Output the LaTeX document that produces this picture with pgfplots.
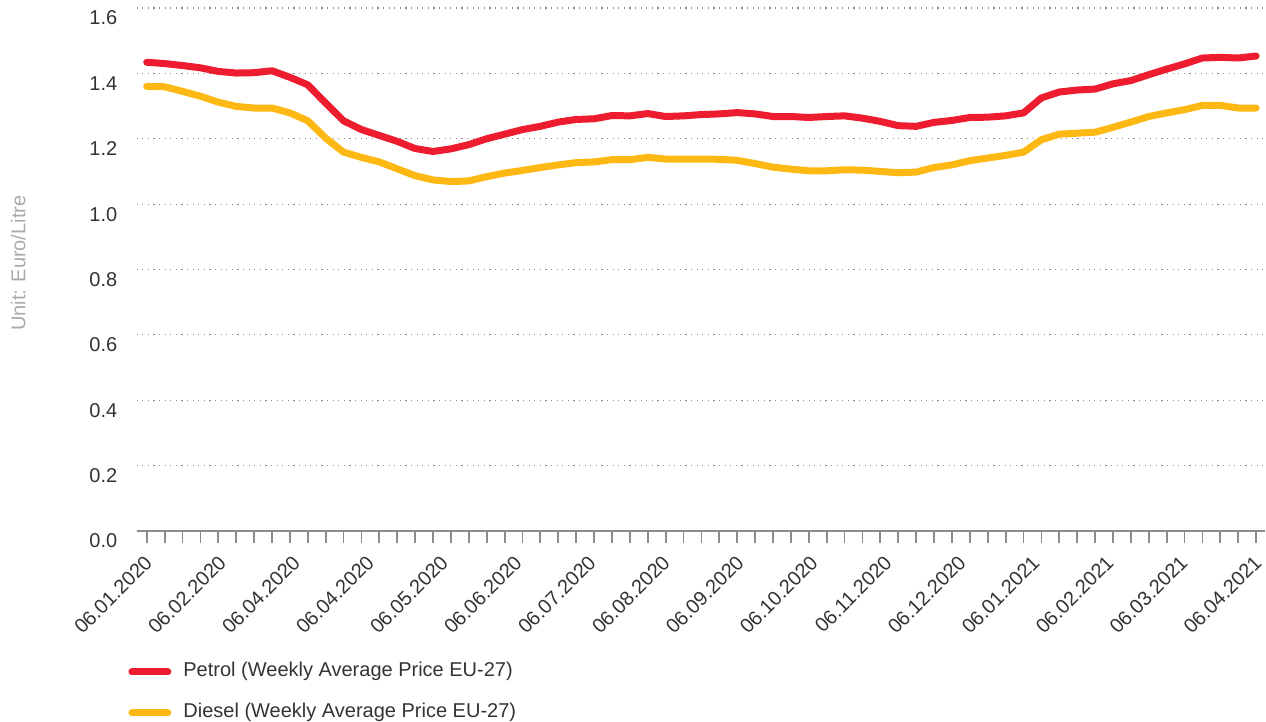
\documentclass[border=0pt]{standalone}
\usepackage{fontspec}
\setmainfont{Liberation Sans}
\usepackage{pgfplots}
\pgfplotsset{compat=1.18}
\definecolor{petrol}{RGB}{237,28,46}
\definecolor{diesel}{RGB}{253,184,19}
\definecolor{txt}{RGB}{51,51,51}
\definecolor{lbl}{RGB}{170,170,170}
\definecolor{axc}{RGB}{140,140,140}
\begin{document}
\begin{tikzpicture}
\path[use as bounding box] (0pt,0pt) rectangle (633pt,361pt);
\begin{axis}[
  at={(68.35pt,95.5pt)}, anchor=south west,
  scale only axis, width=564.2pt, height=261.5pt,
  xmin=-0.56, xmax=62.5, ymin=0, ymax=1.6,
  axis x line*=bottom, axis y line*=left,
  y axis line style={draw=none},
  x axis line style={-, draw=axc, line width=0.9pt},
  font=\fontsize{10}{12}\selectfont,
  /pgf/number format/assume math mode=true,
  tick align=outside,
  xtick={0,4.1333,8.2667,12.4,16.5333,20.6667,24.8,28.9333,33.0667,37.2,41.3333,45.4667,49.6,53.7333,57.8667,62},
  xticklabels={06.01.2020,06.02.2020,06.04.2020,06.04.2020,06.05.2020,06.06.2020,06.07.2020,06.08.2020,06.09.2020,06.10.2020,06.11.2020,06.12.2020,06.01.2021,06.02.2021,06.03.2021,06.04.2021},
  minor xtick={0,1,...,62},
  major x tick style={draw=none},
  minor x tick style={draw=axc, line width=0.9pt},
  minor tick length=6pt,
  major tick length=0pt,
  xticklabel style={xshift=1pt, yshift=-14pt, rotate=45, anchor=east, inner sep=0pt, text=txt},
  ytick={0,0.2,...,1.6},
  yticklabels={0.0,0.2,0.4,0.6,0.8,1.0,1.2,1.4,1.6},
  ytick style={draw=none},
  yticklabel style={anchor=east, inner sep=0pt, xshift=-9.5pt, yshift=-5pt, text=txt},
  ymajorgrids,
  major grid style={draw=axc, line width=0.6pt, dash pattern=on 0.6pt off 2.2pt},
  ylabel={Unit: Euro/Litre},
  ylabel style={at={(axis description cs:-0.105,0.512)}, anchor=center, rotate=0, text=lbl},
  legend style={at={(axis description cs:-0.0077,-0.2516)}, anchor=north west, draw=none, fill=none,
    inner sep=0pt, row sep=11.5pt, column sep=6pt,
    nodes={inner sep=0pt, text height=7pt, text depth=2pt, text=txt},
    font=\fontsize{10}{12}\selectfont},
  legend cell align=left,
  legend image code/.code={\draw[#1] (1.75pt,0pt) -- (19.75pt,0pt);},
]
\addplot[petrol, line width=3.5pt, line cap=round, line join=round] coordinates {
(0,1.434)(1,1.430)(2,1.424)(3,1.417)(4,1.406)(5,1.401)(6,1.402)(7,1.408)(8,1.388)(9,1.365)
(10,1.309)(11,1.255)(12,1.228)(13,1.210)(14,1.192)(15,1.170)(16,1.161)(17,1.169)(18,1.182)(19,1.200)
(20,1.214)(21,1.228)(22,1.238)(23,1.251)(24,1.259)(25,1.261)(26,1.271)(27,1.270)(28,1.277)(29,1.268)
(30,1.270)(31,1.274)(32,1.276)(33,1.280)(34,1.276)(35,1.268)(36,1.268)(37,1.265)(38,1.268)(39,1.270)
(40,1.263)(41,1.253)(42,1.240)(43,1.238)(44,1.250)(45,1.256)(46,1.265)(47,1.266)(48,1.270)(49,1.279)
(50,1.325)(51,1.343)(52,1.349)(53,1.352)(54,1.368)(55,1.378)(56,1.396)(57,1.413)(58,1.429)(59,1.447)
(60,1.449)(61,1.447)(62,1.453)};
\addlegendentry{Petrol (Weekly Average Price EU-27)}
\addplot[diesel, line width=3.5pt, line cap=round, line join=round] coordinates {
(0,1.360)(1,1.359)(2,1.345)(3,1.330)(4,1.312)(5,1.299)(6,1.294)(7,1.294)(8,1.279)(9,1.255)
(10,1.202)(11,1.159)(12,1.143)(13,1.129)(14,1.108)(15,1.087)(16,1.074)(17,1.069)(18,1.071)(19,1.084)
(20,1.095)(21,1.103)(22,1.112)(23,1.120)(24,1.127)(25,1.129)(26,1.136)(27,1.136)(28,1.143)(29,1.138)
(30,1.138)(31,1.138)(32,1.137)(33,1.134)(34,1.124)(35,1.113)(36,1.107)(37,1.102)(38,1.102)(39,1.105)
(40,1.104)(41,1.100)(42,1.096)(43,1.098)(44,1.112)(45,1.120)(46,1.133)(47,1.141)(48,1.149)(49,1.159)
(50,1.197)(51,1.214)(52,1.217)(53,1.220)(54,1.235)(55,1.251)(56,1.268)(57,1.279)(58,1.289)(59,1.302)
(60,1.302)(61,1.294)(62,1.294)};
\addlegendentry{Diesel (Weekly Average Price EU-27)}
\end{axis}
\end{tikzpicture}
\end{document}
